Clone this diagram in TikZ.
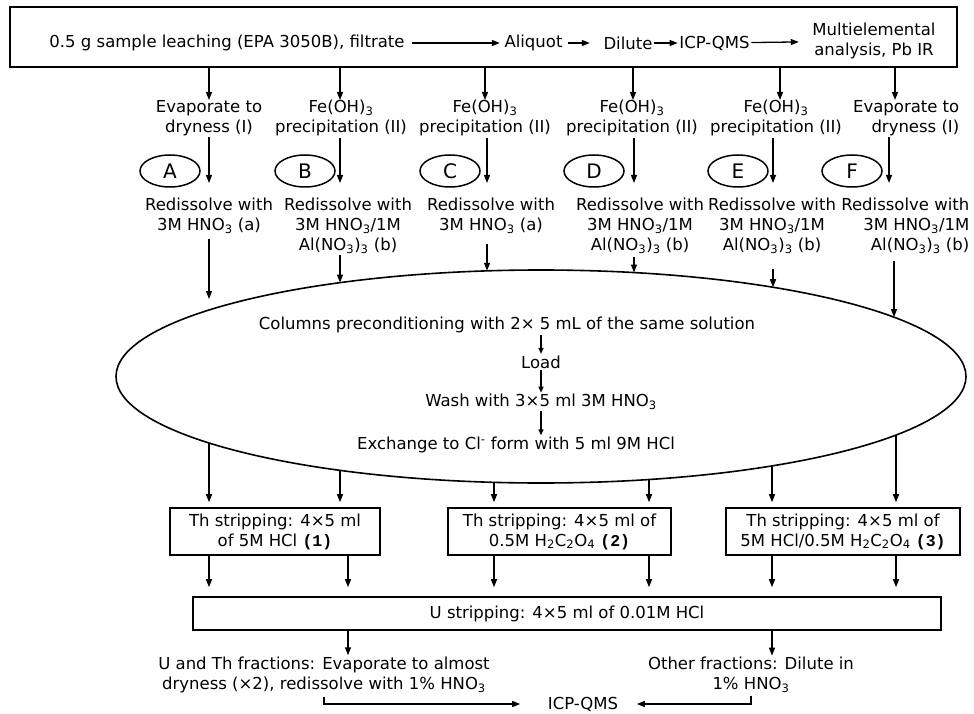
\documentclass[tikz,border=0pt]{standalone}
\usepackage{fontspec}
\setmainfont{DejaVu Sans}
\newfontfamily\numfont{Liberation Mono}
\usetikzlibrary{arrows.meta, positioning, shapes.geometric}
\newcommand{\chsub}[1]{\textsubscript{#1}}
\newcommand{\stepno}[1]{{\numfont\bfseries (#1)}}

\begin{document}
\begin{tikzpicture}[x=1pt, y=-1pt,
    box/.style={draw, line width=1.6pt, inner sep=0pt},
    txt/.style={align=center, font=\fontsize{16.5}{20}\selectfont, inner sep=1.5pt},
    tag/.style={ellipse, draw, line width=1.5pt, minimum width=60, minimum height=32, inner sep=0pt, font=\fontsize{20}{22}\selectfont},
    arrow/.style={-{Triangle[length=8pt, width=6pt]}, line width=1.3pt},
    smallarrow/.style={-{Triangle[length=6pt, width=5pt]}, line width=1.2pt}
]
\useasboundingbox (0,0) rectangle (974,714);

% leaching box
\node[box, minimum width=947, minimum height=60] (topbox) at (483.5,37) {};
\node[txt] (leach) at (227,43) {0.5 g sample leaching (EPA 3050B), filtrate};
\node[txt] (aliquot) at (533.5,43) {Aliquot};
\node[txt] (dilute) at (628,43) {Dilute};
\node[txt] (icp1) at (714.5,43) {ICP-QMS};
\node[txt] (multi) at (874,41) {Multielemental\\analysis, Pb IR};
\draw[arrow, shorten <=6pt, shorten >=3pt] (leach) -- (aliquot);
\draw[arrow, shorten <=4pt, shorten >=12pt] (aliquot) -- (dilute);
\draw[arrow] (dilute) -- (icp1);
\draw[arrow, shorten >=12pt] (icp1) -- (multi);

% first treatment
\node[txt] (evA) at (209,118) {Evaporate to\\dryness (I)};
\node[txt] (feB) at (341,118) {Fe(OH)\chsub{3}\\precipitation (II)};
\node[txt] (feC) at (485,118) {Fe(OH)\chsub{3}\\precipitation (II)};
\node[txt] (feD) at (632,118) {Fe(OH)\chsub{3}\\precipitation (II)};
\node[txt] (feE) at (776,118) {Fe(OH)\chsub{3}\\precipitation (II)};
\node[txt, align=right, anchor=east] (evF) at (961,118) {Evaporate to\\dryness (I)};
\coordinate (tA) at (209,100);
\coordinate (tB) at (340,100);
\coordinate (tC) at (485,100);
\coordinate (tD) at (633,100);
\coordinate (tE) at (780,100);
\coordinate (tF) at (895,100);
\draw[arrow] (topbox.south -| tA) -- (tA);
\draw[arrow] (topbox.south -| tB) -- (tB);
\draw[arrow] (topbox.south -| tC) -- (tC);
\draw[arrow] (topbox.south -| tD) -- (tD);
\draw[arrow] (topbox.south -| tE) -- (tE);
\draw[arrow] (topbox.south -| tF) -- (tF);

% sample tags
\node[tag] (tagA) at (170,171) {A};
\node[tag] (tagB) at (305,171) {B};
\node[tag] (tagC) at (450,171) {C};
\node[tag] (tagD) at (594,171) {D};
\node[tag] (tagE) at (738,171) {E};
\node[tag] (tagF) at (852,171) {F};
\coordinate (kA) at (209,183);
\coordinate (kB) at (340,183);
\coordinate (kC) at (487,183);
\coordinate (kD) at (634,183);
\coordinate (kE) at (773,183);
\coordinate (kF) at (889,183);
\draw[arrow] (evA.south -| kA) -- (kA);
\draw[arrow] (feB.south -| kB) -- (kB);
\draw[arrow] (feC.south -| kC) -- (kC);
\draw[arrow] (feD.south -| kD) -- (kD);
\draw[arrow] (feE.south -| kE) -- (kE);
\draw[arrow] (evF.south -| kF) -- (kF);

% redissolution
\node[txt] (rdA) at (209,216) {Redissolve with\\3M HNO\chsub{3} (a)};
\node[txt] (rdB) at (348,226) {Redissolve with\\3M HNO\chsub{3}/1M\\Al(NO\chsub{3})\chsub{3} (b)};
\node[txt] (rdC) at (491,216) {Redissolve with\\3M HNO\chsub{3} (a)};
\node[txt] (rdD) at (640,226) {Redissolve with\\3M HNO\chsub{3}/1M\\Al(NO\chsub{3})\chsub{3} (b)};
\node[txt] (rdE) at (772,226) {Redissolve with\\3M HNO\chsub{3}/1M\\Al(NO\chsub{3})\chsub{3} (b)};
\node[txt, align=right, anchor=east] (rdF) at (971,226) {Redissolve with\\3M HNO\chsub{3}/1M\\Al(NO\chsub{3})\chsub{3} (b)};

% column
\node[draw, ellipse, line width=1.6pt, minimum width=850, minimum height=213, inner sep=0pt] (column) at (541,376.5) {};
\coordinate (inA) at (209,299);
\coordinate (inB) at (340,282.6);
\coordinate (inC) at (487,270.8);
\coordinate (inD) at (634,272.5);
\coordinate (inE) at (773,287.2);
\coordinate (inF) at (894,317.1);
\draw[arrow, shorten <=4pt] (rdA.south -| inA) -- (inA);
\draw[arrow] (rdB.south -| inB) -- (inB);
\draw[arrow, shorten <=9pt] (rdC.south -| inC) -- (inC);
\draw[arrow, shorten <=2pt] (rdD.south -| inD) -- (inD);
\draw[arrow, shorten <=14pt] (rdE.south -| inE) -- (inE);
\draw[arrow, shorten <=6pt] (rdF.south -| inF) -- (inF);

\node[txt] (precond) at (507,325) {Columns preconditioning with 2× 5 mL of the same solution};
\node[txt] (load) at (541,362) {Load};
\node[txt] (wash) at (541,402) {Wash with 3×5 ml 3M HNO\chsub{3}};
\node[txt] (exch) at (516,445) {Exchange to Cl\textsuperscript{-} form with 5 ml 9M HCl};
\draw[smallarrow] (precond.south -| load) -- (load.north);
\draw[smallarrow] (load.south) -- (wash.north);
\draw[smallarrow] (wash.south) -- (wash.south |- exch.north);

% Th stripping
\node[box, txt, minimum width=210, minimum height=47] (th1) at (275,531.5) {Th stripping: 4×5 ml\\of 5M HCl \stepno{1}};
\node[box, txt, minimum width=223, minimum height=47] (th2) at (559.5,531.5) {Th stripping: 4×5 ml of\\0.5M H\chsub{2}C\chsub{2}O\chsub{4} \stepno{2}};
\node[box, txt, minimum width=234, minimum height=47] (th3) at (843,531.5) {Th stripping: 4×5 ml of\\5M HCl/0.5M H\chsub{2}C\chsub{2}O\chsub{4} \stepno{3}};
\coordinate (outA) at (209,443.1);
\coordinate (outB) at (340,470.4);
\coordinate (outC) at (494,482.5);
\coordinate (outD) at (649,479.6);
\coordinate (outE) at (772,466.0);
\coordinate (outF) at (896,435.1);
\draw[arrow, shorten >=5pt] (outA) -- (outA |- th1.north);
\draw[arrow, shorten >=5pt] (outB) -- (outB |- th1.north);
\draw[arrow, shorten >=5pt] (outC) -- (outC |- th2.north);
\draw[arrow, shorten >=5pt] (outD) -- (outD |- th2.north);
\draw[arrow, shorten >=5pt] (outE) -- (outE |- th3.north);
\draw[arrow, shorten >=5pt] (outF) -- (outF |- th3.north);

% U stripping
\node[box, txt, minimum width=748, minimum height=33] (ubox) at (567,613.5) {U stripping: 4×5 ml of 0.01M HCl};
\draw[arrow, shorten >=9pt] (th1.south -| outA) -- (ubox.north -| outA);
\draw[arrow, shorten >=9pt] ([xshift=8pt]th1.south -| outB) -- ([xshift=8pt]ubox.north -| outB);
\draw[arrow, shorten >=9pt] (th2.south -| outC) -- (ubox.north -| outC);
\draw[arrow, shorten >=9pt] (th2.south -| outD) -- (ubox.north -| outD);
\draw[arrow, shorten >=9pt] (th3.south -| outE) -- (ubox.north -| outE);
\draw[arrow, shorten >=9pt] (th3.south -| outF) -- (ubox.north -| outF);

% fractions and measurement
\node[txt] (uth) at (324,675) {U and Th fractions: Evaporate to almost\\dryness (×2), redissolve with 1\% HNO\chsub{3}};
\node[txt] (other) at (751,675) {Other fractions: Dilute in\\1\% HNO\chsub{3}};
\node[txt] (icp2) at (583,704) {ICP-QMS};
\draw[arrow] ([xshift=24pt]ubox.south -| uth) -- ([xshift=24pt]uth.north);
\draw[arrow] ([xshift=21pt]ubox.south -| other) -- ([xshift=21pt]other.north);
\draw[arrow, shorten <=2pt, shorten >=26pt] (uth.south) |- (icp2.west);
\draw[arrow, shorten <=2pt, shorten >=17pt] (other.south) |- (icp2.east);
\end{tikzpicture}
\end{document}
